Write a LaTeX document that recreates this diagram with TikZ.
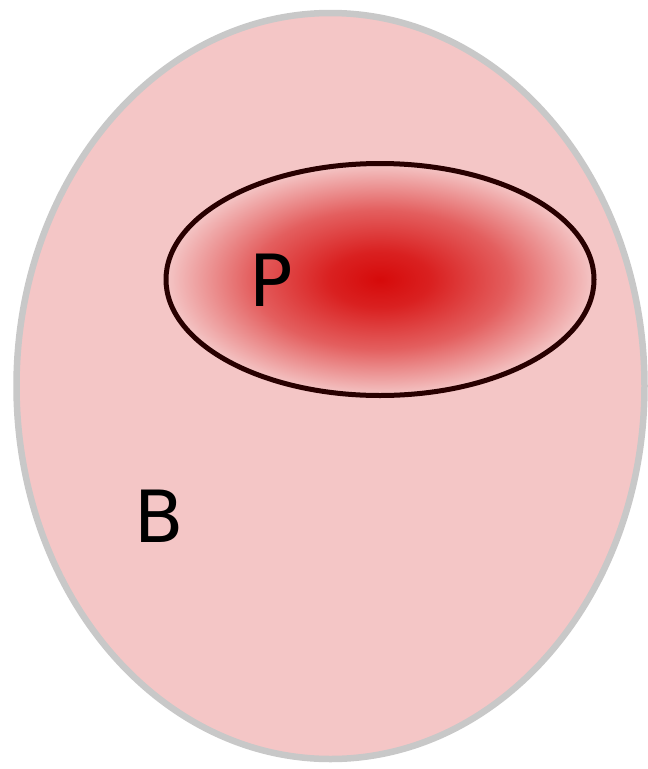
\documentclass[tikz,border=0pt]{standalone}
\usepackage{fontspec}
\setmainfont{DejaVu Sans}
\definecolor{setfill}{RGB}{244,198,198}
\definecolor{setedge}{RGB}{200,200,200}
\definecolor{coreRed}{RGB}{214,10,10}
\definecolor{coreEdge}{RGB}{40,0,0}
\pgfdeclareradialshading{coreglow}{\pgfpoint{0bp}{0bp}}{color(0bp)=(coreRed); color(6bp)=(coreRed!88!setfill); color(15bp)=(coreRed!55!setfill); color(25bp)=(setfill); color(50bp)=(setfill)}

\begin{document}
\begin{tikzpicture}[x=1pt,y=-1pt,line width=.5pt,
  setlabel/.style={anchor=center,inner sep=0pt,font=\fontsize{72}{80}\selectfont}]
\path[use as bounding box] (0,0) rectangle (648,769);
% outer set B
\draw[setedge,line width=6.5pt,fill=setfill] (330.5,386) ellipse (314 and 373);
% inner set P
\shade[shading=coreglow] (380,279.5) ellipse (214 and 116);
\draw[coreEdge,line width=5pt] (380,279.5) ellipse (214 and 116);
\node[setlabel] (labP) at (271,280) {P};
\node[setlabel] (labB) at (159,516) {B};
\end{tikzpicture}
\end{document}
